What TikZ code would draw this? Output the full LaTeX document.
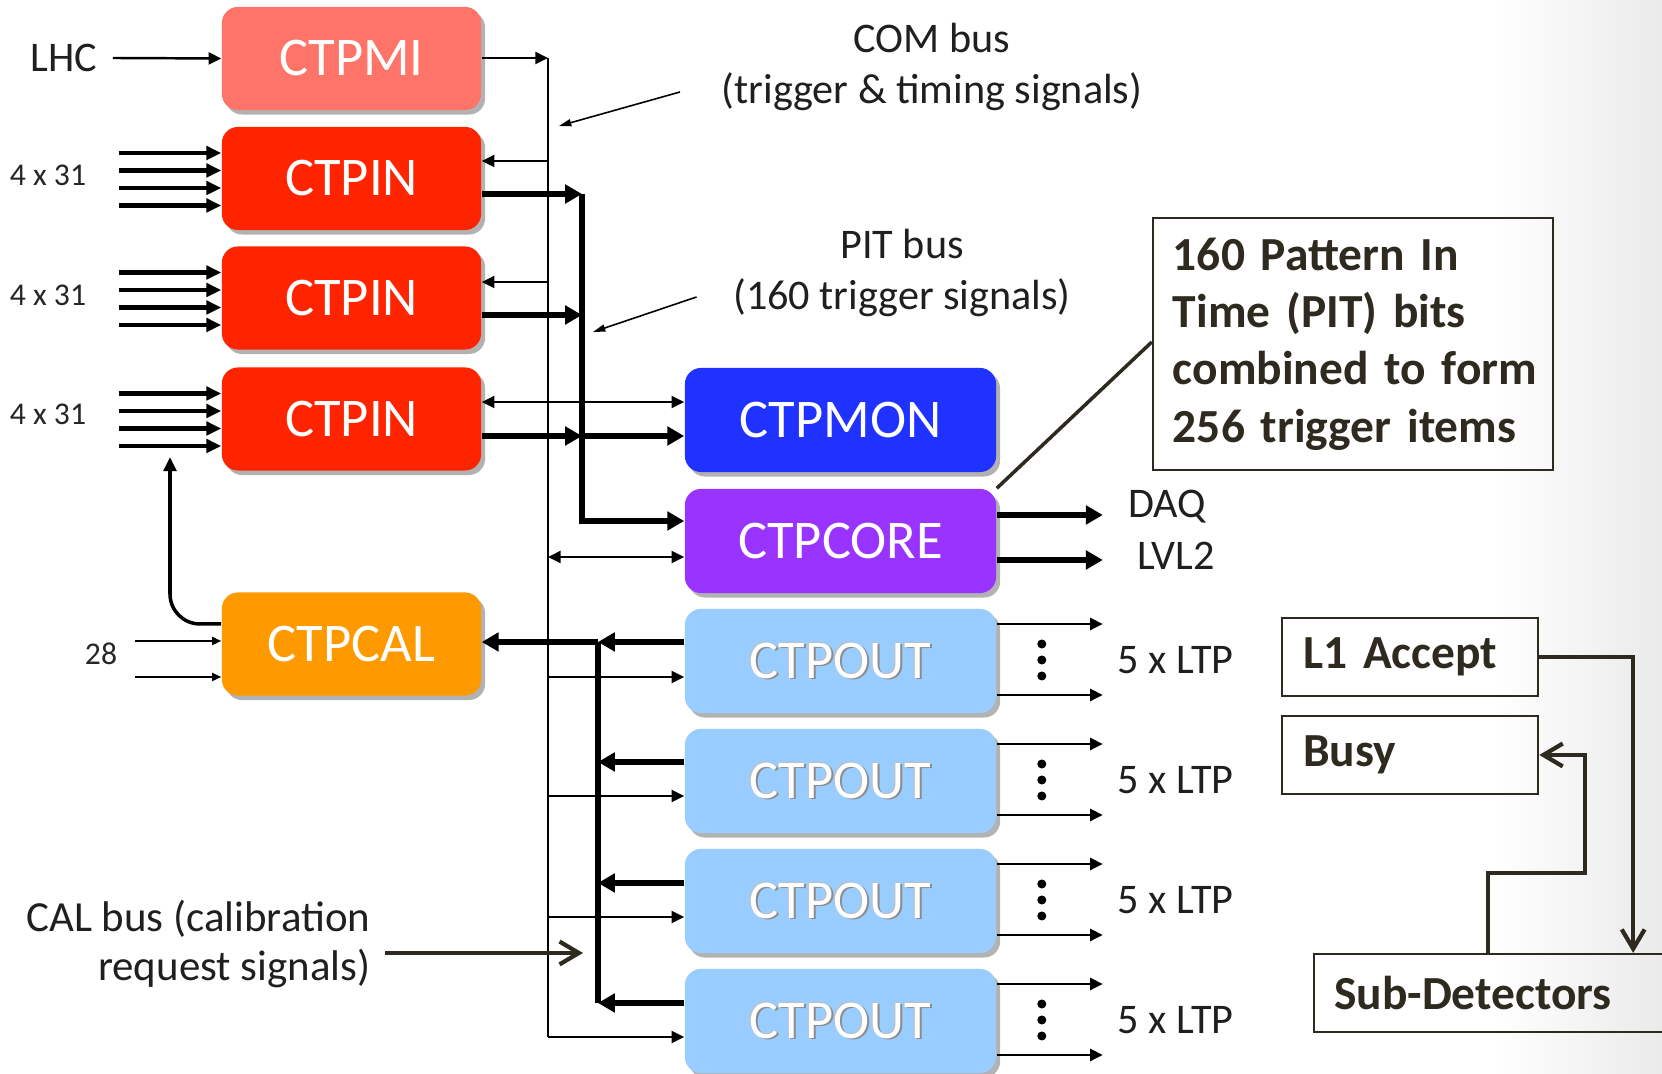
\documentclass[tikz,border=0pt]{standalone}
\usepackage{fontspec}
\setmainfont{Carlito}
\usetikzlibrary{arrows.meta,shadows,calc}

\definecolor{cmi}{RGB}{255,116,104}
\definecolor{cin}{RGB}{255,36,0}
\definecolor{ccal}{RGB}{255,153,0}
\definecolor{cmon}{RGB}{32,50,255}
\definecolor{ccore}{RGB}{153,51,255}
\definecolor{cout}{RGB}{153,204,255}
\definecolor{ink}{RGB}{46,42,31}

% white lettering with a soft grey rim, used on the light CTPOUT boards
\newcommand\outtxt[1]{%
  \makebox[0pt][l]{\kern0.45pt\raisebox{-0.45pt}{\textcolor{black!45}{#1}}}%
  \makebox[0pt][l]{\kern-0.35pt\raisebox{0.35pt}{\textcolor{black!25}{#1}}}#1}

\begin{document}
\begin{tikzpicture}[x=0.01cm,y=-0.01cm,
  box/.style={rectangle, rounded corners=0.16cm, minimum height=1.03cm,
    inner sep=0pt, text=white, font=\fontsize{15.5}{18}\selectfont,
    drop shadow={shadow xshift=0.04cm, shadow yshift=-0.045cm, opacity=0.3, fill=black}},
  lbox/.style={box, minimum width=2.59cm},
  rbox/.style={box, minimum width=3.11cm, minimum height=1.04cm},
  sig/.style={line width=0.7pt},
  sigarr/.style={sig, -{Triangle[length=3.6pt,width=3.4pt]}},
  sigboth/.style={sig, {Triangle[length=3.6pt,width=3.4pt]}-{Triangle[length=3.6pt,width=3.4pt]}},
  tinyarr/.style={line width=0.5pt, -{Triangle[length=2.6pt,width=2.3pt]}},
  bus/.style={line width=1.45pt},
  busarr/.style={bus, -{Triangle[length=4.8pt,width=5.2pt]}},
  inarr/.style={line width=1.35pt, -{Triangle[length=4.2pt,width=3.8pt]}},
  inkarr/.style={draw=ink, line width=1.2pt, -{Straight Barb[length=5.5pt,width=6.5pt]}},
  ptr/.style={line width=0.45pt, -{Triangle[length=3.5pt,width=2pt]}},
  lbl/.style={font=\fontsize{12}{14.5}\selectfont, text=black!88, inner sep=0pt},
  tinylbl/.style={font=\fontsize{9}{11}\selectfont, text=black!85, inner sep=0pt},
  note/.style={draw=ink, line width=0.6pt, text=ink,
    font=\bfseries\fontsize{13.5}{16.3}\selectfont, align=left, inner ysep=0pt},
]
\clip (0,0) rectangle (1662,1074);
\fill[white] (0,0) rectangle (1662,1074);
\shade[left color=white, right color=black!8] (1490,0) rectangle (1662,1074);

% ---- boards ----
\node[lbox, fill=cmi] (ctpmi)  at (351.5,58.5) {CTPMI};
\node[lbox, fill=cin] (ctpin1) at (351.5,178.5) {CTPIN};
\node[lbox, fill=cin] (ctpin2) at (351.5,298) {CTPIN};
\node[lbox, fill=cin] (ctpin3) at (351.5,419) {CTPIN};
\node[lbox, fill=ccal] (ctpcal) at (351.5,644) {CTPCAL};

\node[rbox, fill=cmon]  (ctpmon)  at (840.5,420) {CTPMON};
\node[rbox, fill=ccore] (ctpcore) at (840.5,541) {CTPCORE};
\foreach \i/\y in {1/661,2/781,3/901,4/1021}
  \node[rbox, fill=cout] (ctpout\i) at (840.5,\y) {\outtxt{CTPOUT}};

% ---- bus corners ----
\coordinate (comtop) at (548,58);
\coordinate (combot) at (548,1037);
\coordinate (pittop) at (582,194);
\coordinate (pitbot) at (582,521);
\coordinate (caltop) at (598,642);
\coordinate (calbot) at (598,1003);

% ---- inputs on the left ----
\node[lbl] (lhc) at (64,58) {LHC};
\draw[sigarr] ($(lhc.east)+(15,0)$) -- (ctpmi.west);
\foreach \n/\y in {1/175,2/295,3/414}
  \node[tinylbl] (mult\n) at (48,\y) {4 x 31};
\foreach \n in {1,2,3}
  \foreach \d in {-25.5,-8,9.5,27}
    \draw[inarr] ($(ctpin\n.west)+(-102,\d)$) -- ($(ctpin\n.west)+(0,\d)$);
\node[tinylbl] (n28) at (101,654) {28};
\draw[tinyarr] ($(ctpcal.west)+(-86,-3)$) -- ($(ctpcal.west)+(0,-3)$);
\draw[tinyarr] ($(ctpcal.west)+(-86,33)$) -- ($(ctpcal.west)+(0,33)$);
\coordinate (fbend) at (170,457);
\draw[line width=1pt, -{Triangle[length=4pt,width=3.6pt]}, rounded corners=0.3cm]
  (ctpcal.west |- 0,624) -- (fbend |- 0,624) -- (fbend);

% ---- COM bus ----
\draw[sigarr] (ctpmi.east |- comtop) -- (comtop);
\draw[sig] (comtop) -- (combot);
\draw[sigarr] (comtop |- 0,161) -- (ctpin1.east |- 0,161);
\draw[sigarr] (comtop |- 0,282) -- (ctpin2.east |- 0,282);
\draw[sigboth] (ctpin3.east |- 0,402) -- (ctpmon.west |- 0,402);
\draw[sigboth] (comtop |- 0,557) -- (ctpcore.west |- 0,557);
\foreach \i/\y in {1/677,2/796,3/917}
  \draw[sigarr] (comtop |- 0,\y) -- (ctpout\i.west |- 0,\y);
\draw[sigarr] (combot) -- (ctpout4.west |- combot);

% ---- PIT bus ----
\draw[busarr] (ctpin1.east |- pittop) -- (pittop);
\draw[busarr] (pittop) -- (pitbot) -- (ctpcore.west |- pitbot);
\draw[busarr] (ctpin2.east |- 0,315) -- (pittop |- 0,315);
\draw[busarr] (ctpin3.east |- 0,436) -- (pittop |- 0,436);
\draw[busarr] (pittop |- 0,436) -- (ctpmon.west |- 0,436);

% ---- CAL bus ----
\draw[busarr] (ctpout1.west |- caltop) -- (caltop);
\draw[busarr] (caltop) -- (ctpcal.east |- caltop);
\draw[bus] (caltop) -- (calbot);
\foreach \i/\y in {2/762,3/883}
  \draw[busarr] (ctpout\i.west |- 0,\y) -- (caltop |- 0,\y);
\draw[busarr] (ctpout4.west |- calbot) -- (calbot);

% ---- bus captions ----
\node[lbl, align=center] (comlbl) at (932,67) {COM bus\\(trigger \& timing signals)};
\coordinate (comptr) at (559,126);
\draw[ptr] ($(comlbl.west)+(-41,25)$) -- (comptr);
\node[lbl, align=center] (pitlbl) at (902,273) {PIT bus\\(160 trigger signals)};
\coordinate (pitptr) at (593,332);
\draw[ptr] ($(pitlbl.west)+(-36,24)$) -- (pitptr);
\node[lbl, align=right, anchor=east, font=\fontsize{12.2}{14.2}\selectfont]
  (callbl) at (371,944) {CAL bus (calibration\\request signals)};
\coordinate (calptr) at (583,953);
\draw[inkarr] ($(callbl.east)+(14,9)$) -- (calptr);

% ---- outputs ----
\draw[busarr] ($(ctpcore.east)+(0,-26)$) -- ++(106,0);
\draw[busarr] ($(ctpcore.east)+(0,19)$) -- ++(106,0);
\node[lbl] (daq) at (1167,507) {DAQ};
\node[lbl] (lvl2) at (1176,556) {LVL2};
\foreach \i in {1,2,3,4}{
  \draw[sigarr] ($(ctpout\i.east)+(0,-37)$) -- ++(106,0);
  \draw[sigarr] ($(ctpout\i.east)+(0,34)$) -- ++(106,0);
  \foreach \d in {-16,0,16}
    \fill ($(ctpout\i.east)+(45,\d-1)$) circle (0.045cm);
  \node[lbl] (ltp\i) at ($(ctpout\i.east)+(179,-1)$) {5 x LTP};
}

% ---- PIT explanation ----
\node[note, minimum width=4cm, minimum height=2.52cm, text width=3.72cm, inner xsep=0.14cm]
  (pitnote) at (1353,344) {\hspace*{0.06cm}160 Pattern In\\\hspace*{0.06cm}Time (PIT) bits\\\hspace*{0.06cm}combined to form\\\hspace*{0.06cm}256 trigger items};
\draw[ink, line width=1pt] (pitnote.west |- 0,342) -- (ctpcore.north east);

% ---- detector handshake ----
\node[note, anchor=west, minimum height=0.78cm, text width=2.14cm, inner xsep=0.21cm]
  (l1) at (1281,657) {L1 Accept};
\node[note, anchor=west, minimum height=0.78cm, text width=2.14cm, inner xsep=0.21cm]
  (busy) at (1281,755) {Busy};
\node[note, anchor=west, minimum height=0.78cm, text width=3.5cm, inner xsep=0.2cm]
  (sub) at (1313,993) {Sub-Detectors};
\coordinate (busybend) at (1585,873);
\draw[inkarr] (l1.east) -| ([xshift=3.2cm]sub.north west);
\draw[inkarr] ([xshift=1.75cm]sub.north west) |- (busybend) -- (busybend |- busy.east) -- (busy.east);
\end{tikzpicture}
\end{document}
